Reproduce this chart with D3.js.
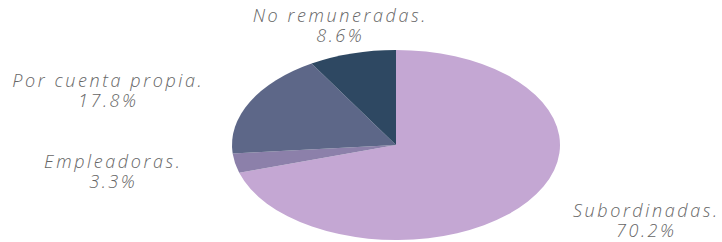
<!DOCTYPE html>
<html>
<head>
<meta charset="utf-8">
<script src="https://cdn.jsdelivr.net/npm/d3@7"></script>
<style>
	body{margin:0;background:#fff;}
	#chart{width:722px;height:242px;}
</style>
</head>
<body>
<div id="chart"></div>
<script>
// data, clockwise from 12 o'clock
let categories = ['Subordinadas.', 'Empleadoras.', 'Por cuenta propia.', 'No remuneradas.'],
	values = [70.2, 3.3, 17.8, 8.6],
	valueLabels = ['70.2%', '3.3%', '17.8%', '8.6%'],
	colors = ['#c4a7d3', '#8c80aa', '#5d6788', '#2e4862'];

// where each label block sits (centre x, first baseline y)
let labelPos = {
	'Subordinadas.': [645, 217],
	'Empleadoras.': [112, 168],
	'Por cuenta propia.': [107, 87],
	'No remuneradas.': [339, 22]
};

function PieChart(divElement){
	let w = 722,
		h = 242,
		cx = 396,
		cy = 145,
		rx = 164,
		ry = 95,
		r = 100,
		spacing = 2.6;

	let svgElem = divElement.append('svg').attr('width', w).attr('height', h);

	let pie = d3.pie().sort(null).value(function(d){ return d.value; });
	let arc = d3.arc().innerRadius(0).outerRadius(r);

	let dataArr = categories.map(function(c, i){
		return {name: c, value: values[i], label: valueLabels[i], color: colors[i]};
	});

	// ellipse: draw a circle and stretch it
	let pieG = svgElem.append('g')
		.attr('transform', 'translate(' + cx + ',' + cy + ') scale(' + (rx/r) + ',' + (ry/r) + ')');

	pieG.selectAll('path')
		.data(pie(dataArr))
		.enter()
		.append('path')
		.attr('d', arc)
		.style('fill', function(d){ return d.data.color; });

	function addText(x, y, txt){
		svgElem.append('text')
			.attr('x', x + spacing/2) // letter-spacing leaves a trailing gap
			.attr('y', y)
			.attr('text-anchor', 'middle')
			.style('font-family', '"Open Sans", sans-serif')
			.style('font-style', 'italic')
			.style('font-weight', 300)
			.style('font-size', '18px')
			.style('letter-spacing', spacing + 'px')
			.style('fill', '#666')
			.text(txt);
	}

	dataArr.forEach(function(d){
		let p = labelPos[d.name];
		addText(p[0], p[1], d.name);
		addText(p[0], p[1] + 20, d.label);
	});
}

PieChart(d3.select('#chart'));
</script>
</body>
</html>
